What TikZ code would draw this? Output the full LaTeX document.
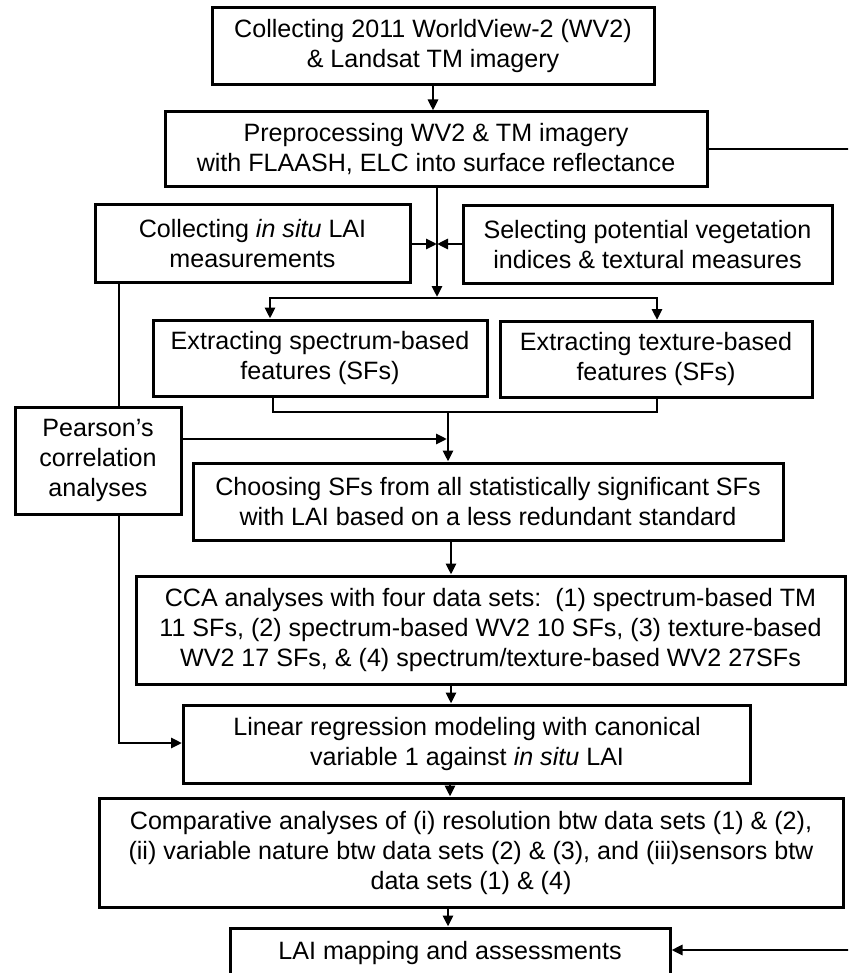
\documentclass[tikz,border=0pt]{standalone}
\usepackage{fontspec}
\setmainfont{Liberation Sans}
\usetikzlibrary{arrows.meta}
\tikzset{
  box/.style={draw, line width=3pt, inner sep=0pt, align=center,
    font=\fontsize{25.1}{30}\selectfont},
  conn/.style={line width=2.9pt},
  arr/.style={conn, -{Triangle[length=11pt,width=10pt]}},
  darr/.style={conn, {Triangle[length=11pt,width=10pt]}-{Triangle[length=11pt,width=10pt]}}
}
\begin{document}
\begin{tikzpicture}[x=1pt,y=-1pt]
\useasboundingbox (0,0) rectangle (848,973);
\clip (0,0) rectangle (848,973);
% boxes
\node[box, minimum width=442pt, minimum height=77pt] (top) at (433,46.5)
  {Collecting 2011 WorldView-2 (WV2)\\\& Landsat TM imagery};
\node[box, minimum width=542pt, minimum height=75pt] (pre) at (436,149.5)
  {Preprocessing WV2 \& TM imagery\\with FLAASH, ELC into surface reflectance};
\node[box, minimum width=315pt, minimum height=77pt] (insitu) at (252.5,243.5)
  {Collecting \textit{in situ} LAI\\measurements};
\node[box, minimum width=369pt, minimum height=77pt] (select) at (647.5,244.5)
  {Selecting potential vegetation\\indices \& textural measures};
\node[box, minimum width=334pt, minimum height=76pt] (spec) at (320,358)
  {Extracting spectrum-based\\features (SFs)};
\node[box, minimum width=312pt, minimum height=76pt] (tex) at (656,359.5)
  {Extracting texture-based\\features (SFs)};
\node[box, minimum width=166pt, minimum height=107pt] (pearson) at (98,460.5)
  {Pearson’s\\correlation\\analyses};
\node[box, minimum width=590pt, minimum height=77pt] (choose) at (488,501.5)
  {Choosing SFs from all statistically significant SFs\\with LAI based on a less redundant standard};
\node[box, minimum width=709pt, minimum height=108pt] (cca) at (490.5,630)
  {CCA analyses with four data sets:\ \ (1) spectrum-based TM\\11 SFs, (2) spectrum-based WV2 10 SFs, (3) texture-based\\WV2 17 SFs, \& (4) spectrum/texture-based WV2 27SFs};
\node[box, minimum width=567pt, minimum height=78pt] (linear) at (467,744)
  {Linear regression modeling with canonical\\variable 1 against \textit{in situ} LAI};
\node[box, minimum width=744pt, minimum height=109pt] (comp) at (471,852.5)
  {Comparative analyses of (i) resolution btw data sets (1) \& (2),\\(ii) variable nature btw data sets (2) \& (3), and (iii)sensors btw\\data sets (1) \& (4)};
\node[box, minimum width=440pt, minimum height=50pt] (lai) at (450,953)
  {LAI mapping and assessments};
% helper coordinates
\coordinate (J) at (437,244);
\coordinate (jb) at (437,297);
\coordinate (hl) at (270,298);
\coordinate (hr) at (657,298);
\coordinate (bl) at (273,412);
\coordinate (br) at (657,412);
\coordinate (bm) at (448,412);
\coordinate (pa) at (447,439);
\coordinate (c1) at (451,0);
\coordinate (c2) at (450,0);
\coordinate (c3) at (448,0);
\coordinate (lx) at (119,743);
\coordinate (r1) at (853,149);
\coordinate (r2) at (853,950);
% connectors
\draw[arr] (top.south) -- (top.south |- pre.north);
\draw[arr] (pre.south -| J) -- (jb);
\draw[arr] (insitu.east |- J) -- (J);
\draw[arr] (select.west |- J) -- (J);
\draw[darr] (hl |- spec.north) -- (hl) -- (hr) -- (hr |- tex.north);
\draw[conn] (bl |- spec.south) -- (bl) -- (br) -- (br |- tex.south);
\draw[arr] (bm) -- (bm |- choose.north);
\draw[arr] (pa -| pearson.east) -- (pa);
\draw[arr] (c1 |- choose.south) -- (c1 |- cca.north);
\draw[arr] (c1 |- cca.south) -- (c1 |- linear.north);
\draw[arr] (c2 |- linear.south) -- (c2 |- comp.north);
\draw[arr] (c3 |- comp.south) -- (c3 |- lai.north);
\draw[conn] (insitu.south -| lx) -- (pearson.north -| lx);
\draw[arr] (pearson.south -| lx) -- (lx) -- (linear.west |- lx);
\draw[arr] (pre.east |- r1) -- (r1) -- (r2) -- (lai.east |- r2);
\end{tikzpicture}
\end{document}
